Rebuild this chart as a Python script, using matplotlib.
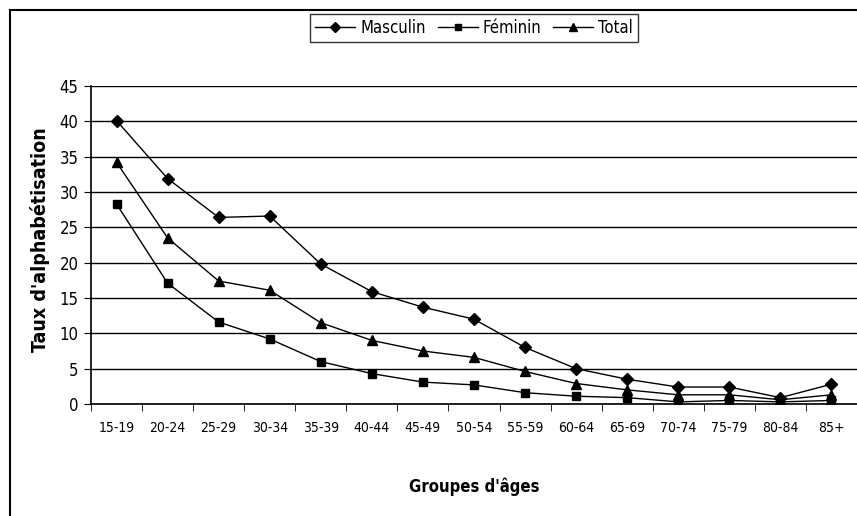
import matplotlib
matplotlib.use("Agg")
import matplotlib.pyplot as plt
from matplotlib.lines import Line2D
import numpy as np

ages = ["15-19", "20-24", "25-29", "30-34", "35-39", "40-44", "45-49", "50-54",
        "55-59", "60-64", "65-69", "70-74", "75-79", "80-84", "85+"]
masculin = [40.1, 31.9, 26.4, 26.6, 19.8, 15.9, 13.7, 12.0, 8.0, 5.0, 3.5, 2.4, 2.4, 0.9, 2.8]
feminin = [28.3, 17.1, 11.6, 9.2, 6.0, 4.3, 3.1, 2.7, 1.6, 1.1, 0.9, 0.3, 0.5, 0.3, 0.5]
total = [34.2, 23.5, 17.4, 16.1, 11.5, 9.0, 7.5, 6.6, 4.6, 2.9, 2.0, 1.3, 1.3, 0.6, 1.3]

plt.rcParams['font.family'] = ['DejaVu Sans']
plt.rcParams['font.stretch'] = 'condensed'

fig = plt.figure(figsize=(8.57, 5.16), dpi=100)
ax = fig.add_axes([91/857, 1-404/516, 1-91/857, (404-86)/516])

x = np.arange(len(ages))
ax.plot(x, masculin, color='black', lw=1, marker='D', ms=6, label='Masculin')
ax.plot(x, feminin, color='black', lw=1, marker='s', ms=6, label='Féminin')
ax.plot(x, total, color='black', lw=1, marker='^', ms=7, label='Total')

ax.set_xlim(-0.5, len(ages) - 0.5)
ax.set_ylim(0, 45)
ax.set_yticks(range(0, 46, 5))
ax.yaxis.grid(True, color='black', lw=1)
ax.set_axisbelow(True)
ax.set_xticks(x)
ax.set_xticklabels(ages)
ax.set_xticks(np.arange(-0.5, len(ages), 1), minor=True)
ax.tick_params(axis='x', which='major', length=0, pad=12, labelsize=10)
ax.tick_params(axis='x', which='minor', length=5, direction='out')
ax.tick_params(axis='y', length=5, direction='out', labelsize=12, pad=4)
for s in ['top', 'right']:
    ax.spines[s].set_visible(False)
ax.spines['left'].set_linewidth(1.2)
ax.spines['bottom'].set_linewidth(1.2)

fig.text(40/857, 1-240/516, "Taux d'alphabétisation", rotation=90,
         ha='center', va='center', fontsize=14, fontweight='bold')
fig.text(474/857, 1-487/516, "Groupes d'âges", ha='center', va='center',
         fontsize=12, fontweight='bold')

leg = fig.legend(loc='center', bbox_to_anchor=(474/857, 1-28/516), ncol=3,
                 frameon=True, fancybox=False, edgecolor='black', fontsize=12,
                 handlelength=2.4, handletextpad=0.3, columnspacing=0.7,
                 borderpad=0.3, markerscale=0.8)
leg.get_frame().set_linewidth(1)

# outer chart border
fig.add_artist(Line2D([10/857, 1], [1-10/516, 1-10/516], color='black', lw=1.5,
                      transform=fig.transFigure))
fig.add_artist(Line2D([10/857, 10/857], [0, 1-10/516], color='black', lw=1.5,
                      transform=fig.transFigure))

fig.savefig("out.png", dpi=100)
